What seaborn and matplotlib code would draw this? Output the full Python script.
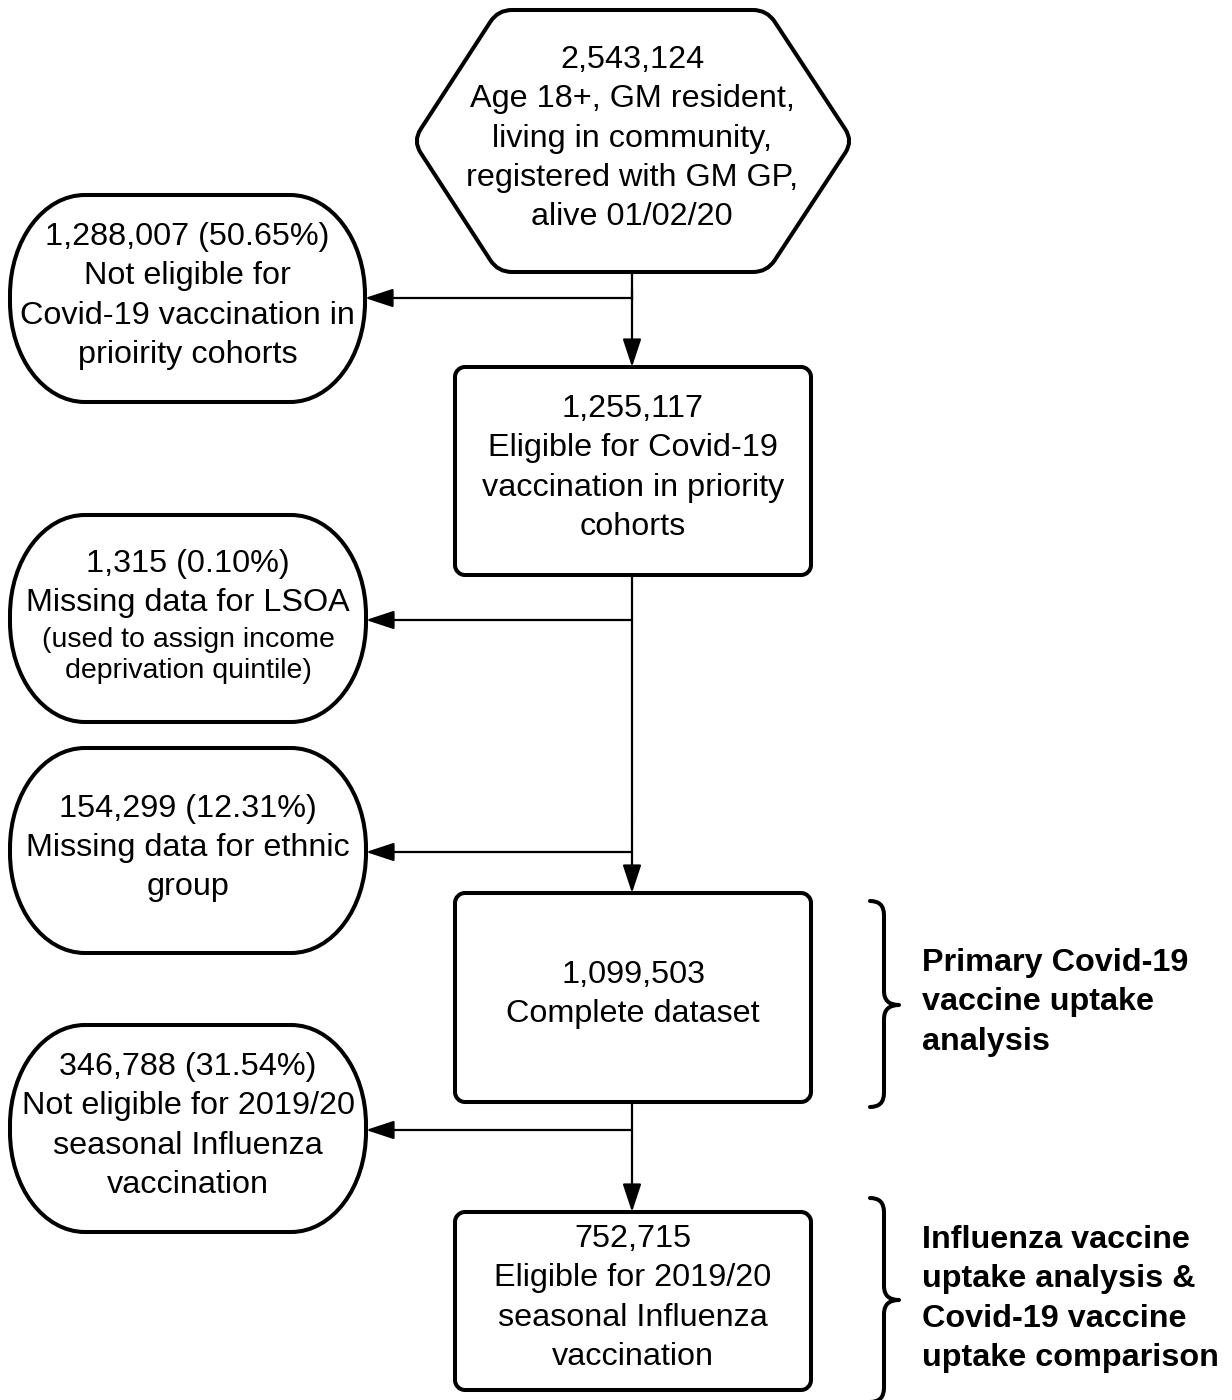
import matplotlib
matplotlib.use("Agg")
import matplotlib.pyplot as plt
import seaborn as sns
from matplotlib.path import Path
from matplotlib.patches import PathPatch, FancyArrowPatch

sns.set_theme(style="white")
plt.rcParams['font.family'] = ['Liberation Sans', 'DejaVu Sans']

# cohort numbers and labels (main flow)
node_counts = ["2,543,124", "1,255,117", "1,099,503", "752,715"]
node_labels = [
    ["Age 18+, GM resident,", "living in community,", "registered with GM GP,", "alive 01/02/20"],
    ["Eligible for Covid-19", "vaccination in priority", "cohorts"],
    ["Complete dataset"],
    ["Eligible for 2019/20", "seasonal Influenza", "vaccination"],
]

# exclusions (left side)
excluded_counts = ["1,288,007 (50.65%)", "1,315 (0.10%)", "154,299 (12.31%)", "346,788 (31.54%)"]
excluded_labels = [
    ["Not eligible for", "Covid-19 vaccination in", "prioirity cohorts"],
    ["Missing data for LSOA"],
    ["Missing data for ethnic", "group"],
    ["Not eligible for 2019/20", "seasonal Influenza", "vaccination"],
]
excluded_notes = [[], ["(used to assign income", "deprivation quintile)"], [], []]

# analysis groups (right side)
analysis_labels = [
    ["Primary Covid-19", "vaccine uptake", "analysis"],
    ["Influenza vaccine", "uptake analysis &", "Covid-19 vaccine", "uptake comparison"],
]

FS = 23.3
FS_SMALL = 20.5
STEP = 39.3
LW_BOX = 2.9
LW_LINE = 1.6

fig = plt.figure(figsize=(12.32, 14), dpi=100)
ax = fig.add_axes([0, 0, 1, 1])
ax.set_xlim(0, 1232)
ax.set_ylim(1400, 0)
ax.axis("off")


def rounded_rect(x0, y0, x1, y1, rx, ry):
    k = 0.5523
    verts = [
        (x0 + rx, y0), (x1 - rx, y0),
        (x1 - rx + k * rx, y0), (x1, y0 + ry - k * ry), (x1, y0 + ry),
        (x1, y1 - ry),
        (x1, y1 - ry + k * ry), (x1 - rx + k * rx, y1), (x1 - rx, y1),
        (x0 + rx, y1),
        (x0 + rx - k * rx, y1), (x0, y1 - ry + k * ry), (x0, y1 - ry),
        (x0, y0 + ry),
        (x0, y0 + ry - k * ry), (x0 + rx - k * rx, y0), (x0 + rx, y0),
        (x0 + rx, y0),
    ]
    codes = [Path.MOVETO, Path.LINETO,
             Path.CURVE4, Path.CURVE4, Path.CURVE4,
             Path.LINETO,
             Path.CURVE4, Path.CURVE4, Path.CURVE4,
             Path.LINETO,
             Path.CURVE4, Path.CURVE4, Path.CURVE4,
             Path.LINETO,
             Path.CURVE4, Path.CURVE4, Path.CURVE4,
             Path.CLOSEPOLY]
    ax.add_patch(PathPatch(Path(verts, codes), facecolor="white", edgecolor="black",
                           lw=LW_BOX, joinstyle="round"))


def rounded_polygon(pts, r):
    import numpy as np
    n = len(pts)
    verts, codes = [], []
    for i in range(n):
        p = np.array(pts[i], float)
        a = np.array(pts[i - 1], float)
        b = np.array(pts[(i + 1) % n], float)
        pa = p + (a - p) / np.linalg.norm(a - p) * r
        pb = p + (b - p) / np.linalg.norm(b - p) * r
        verts += [tuple(pa), tuple(p), tuple(pb)]
        codes += [Path.MOVETO if i == 0 else Path.LINETO, Path.CURVE3, Path.CURVE3]
    verts.append(verts[0])
    codes.append(Path.CLOSEPOLY)
    ax.add_patch(PathPatch(Path(verts, codes), facecolor="white", edgecolor="black",
                           lw=LW_BOX, joinstyle="round"))


def brace(x0, xm, xp, ytop, ymid, ybot, r=14):
    verts = [(x0, ytop), (xm, ytop), (xm, ytop + r), (xm, ymid - r), (xm, ymid), (xp, ymid),
             (xm, ymid), (xm, ymid + r), (xm, ybot - r), (xm, ybot), (x0, ybot)]
    codes = [Path.MOVETO, Path.CURVE3, Path.CURVE3, Path.LINETO, Path.CURVE3, Path.CURVE3,
             Path.CURVE3, Path.CURVE3, Path.LINETO, Path.CURVE3, Path.CURVE3]
    ax.add_patch(PathPatch(Path(verts, codes), facecolor="none", edgecolor="black",
                           lw=LW_BOX, capstyle="round", joinstyle="round"))


def arrow(p0, p1):
    ax.add_patch(FancyArrowPatch(p0, p1, arrowstyle="-|>,head_length=1.15,head_width=0.38",
                                 mutation_scale=15, color="black", lw=LW_LINE,
                                 shrinkA=0, shrinkB=0))


def lines_at(x, y_first, lines, size=FS, step=STEP, weight="normal", ha="center"):
    for i, s in enumerate(lines):
        ax.text(x, y_first + i * step, s, fontsize=size, ha=ha, va="center",
                weight=weight, color="black")


# shapes
main_boxes = [(455, 367, 811, 575), (455, 893, 811, 1102), (455, 1212, 811, 1390)]
left_boxes = [(10, 195, 365, 402), (10, 515, 366, 722), (10, 748, 366, 953), (10, 1025, 366, 1232)]
branch_y = [298, 620, 852, 1130]
CX = 632

# connectors
ax.plot([CX, CX], [273, 300], color="black", lw=LW_LINE)
arrow((CX, 290), (CX, 367))
ax.plot([CX, CX], [575, 820], color="black", lw=LW_LINE)
arrow((CX, 820), (CX, 893))
ax.plot([CX, CX], [1102, 1140], color="black", lw=LW_LINE)
arrow((CX, 1140), (CX, 1212))
for i, y in enumerate(branch_y):
    arrow((CX, y), (left_boxes[i][2], y))

# hexagon (top)
hexagon = [(498, 10), (767, 10), (853, 141), (767, 272), (498, 272), (413, 141)]
rounded_polygon(hexagon, 14)
lines_at(CX, 60, [node_counts[0]] + node_labels[0])

for (x0, y0, x1, y1) in main_boxes:
    rounded_rect(x0, y0, x1, y1, 10, 10)
for (x0, y0, x1, y1) in left_boxes:
    rounded_rect(x0, y0, x1, y1, 75, 100)

# main box texts
for i, (x0, y0, x1, y1) in enumerate(main_boxes):
    lines = [node_counts[i + 1]] + node_labels[i + 1]
    yc = (y0 + y1) / 2 - 3
    lines_at((x0 + x1) / 2, yc - (len(lines) - 1) * STEP / 2, lines)

# left box texts
for i, (x0, y0, x1, y1) in enumerate(left_boxes):
    xc = (x0 + x1) / 2
    big = [excluded_counts[i]] + excluded_labels[i]
    small = excluded_notes[i]
    if small:
        lines_at(xc, 564, big)
        lines_at(xc, 640, small, size=FS_SMALL, step=31)
    else:
        yc = (y0 + y1) / 2
        lines_at(xc, yc - (len(big) - 1) * STEP / 2 - 2.5, big)

# braces + analysis labels
brace(870, 884, 899, 901, 1005, 1107)
brace(870, 884, 899, 1198, 1300, 1402)
lines_at(922, 963, analysis_labels[0], weight="bold", ha="left")
lines_at(922, 1240, analysis_labels[1], weight="bold", ha="left")

fig.savefig("out.png", dpi=100, facecolor="white")
